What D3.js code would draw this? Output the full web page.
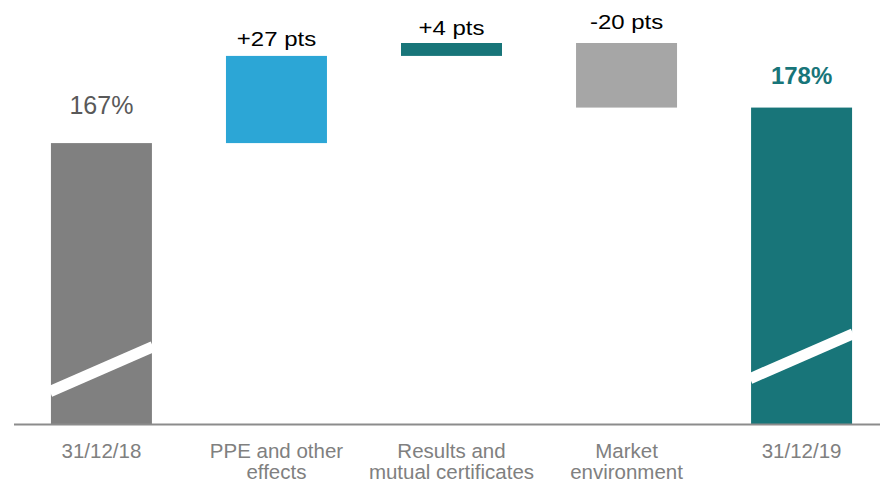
<!DOCTYPE html>
<html>
<head>
<meta charset="utf-8">
<script src="https://cdn.jsdelivr.net/npm/d3@7"></script>
<style>
  html, body { margin: 0; padding: 0; background: #fff; }
  svg { display: block; font-family: "Liberation Sans", Arial, sans-serif; }
</style>
</head>
<body>
<svg id="chart" width="880" height="482"></svg>
<script>
// Solvency ratio bridge, 31/12/18 -> 31/12/19
const categories = ["31/12/18", "PPE and other effects", "Results and mutual certificates", "Market environment", "31/12/19"];
const categoryLines = [["31/12/18"], ["PPE and other", "effects"], ["Results and", "mutual certificates"], ["Market", "environment"], ["31/12/19"]];
const values = [167, 27, 4, -20, 178];
const kinds = ["total", "delta", "delta", "delta", "total"];
const valueLabels = ["167%", "+27 pts", "+4 pts", "-20 pts", "178%"];
// value (in %) where the axis-break stripe crosses each total bar
const breakValues = [97, 101];

const barColors = ["#808080", "#2ca6d6", "#187579", "#a6a6a6", "#187579"];
const labelColors = ["#595959", "#000000", "#000000", "#000000", "#187579"];
const labelWeights = ["normal", "normal", "normal", "normal", "bold"];
const labelSizes = [25, 20.5, 20.5, 20.5, 24];
const labelStretch = [1, 1.17, 1.17, 1.17, 1];
const labelGaps = [29, 10, 8, 14, 24];

const svg = d3.select("#chart");
const baseY = 424;

const x = d3.scaleBand().domain(categories).range([14, 889]).paddingInner(0.423).paddingOuter(0.211);
// the value axis is broken: it starts at 80% at the baseline
const y = d3.scaleLinear().domain([80, 198]).range([baseY, 43]);

// running waterfall positions
let running = 0;
const bars = values.map((v, i) => {
  let lo, hi;
  if (kinds[i] === "total") { lo = y.domain()[0]; hi = v; running = v; }
  else { const start = running; running += v; lo = Math.min(start, running); hi = Math.max(start, running); }
  return { cat: categories[i], lo, hi, i };
});

svg.append("g").selectAll("rect").data(bars).join("rect")
  .attr("x", d => x(d.cat))
  .attr("width", x.bandwidth())
  .attr("y", d => y(d.hi))
  .attr("height", d => y(d.lo) - y(d.hi))
  .attr("fill", d => barColors[d.i]);

// axis-break stripes on the total bars
const totals = bars.filter(d => kinds[d.i] === "total");
svg.append("g").selectAll("line").data(totals).join("line")
  .attr("x1", d => x(d.cat) - 1)
  .attr("x2", d => x(d.cat) + x.bandwidth() + 1)
  .attr("y1", (d, k) => y(breakValues[k]) + 22.5)
  .attr("y2", (d, k) => y(breakValues[k]) - 22.5)
  .attr("stroke", "#fff")
  .attr("stroke-width", 11);

// baseline axis
svg.append("line")
  .attr("x1", 14).attr("x2", 880)
  .attr("y1", baseY + 0.5).attr("y2", baseY + 0.5)
  .attr("stroke", "#8c8c8c").attr("stroke-width", 2);

// value labels
svg.append("g").selectAll("text").data(bars).join("text")
  .attr("transform", d => `translate(${x(d.cat) + x.bandwidth() / 2},${y(d.hi) - labelGaps[d.i]}) scale(${labelStretch[d.i]},1)`)
  .attr("text-anchor", "middle")
  .attr("font-size", d => labelSizes[d.i])
  .attr("font-weight", d => labelWeights[d.i])
  .attr("fill", d => labelColors[d.i])
  .text(d => valueLabels[d.i]);

// category labels
const cat = svg.append("g").selectAll("text").data(categories).join("text")
  .attr("x", d => x(d) + x.bandwidth() / 2)
  .attr("y", 457.5)
  .attr("text-anchor", "middle")
  .attr("font-size", 20.5)
  .attr("fill", "#808080");
cat.each(function(d, i) {
  d3.select(this).selectAll("tspan").data(categoryLines[i]).join("tspan")
    .attr("x", x(d) + x.bandwidth() / 2)
    .attr("dy", (t, j) => j === 0 ? 0 : 21.5)
    .text(t => t);
});
</script>
</body>
</html>
